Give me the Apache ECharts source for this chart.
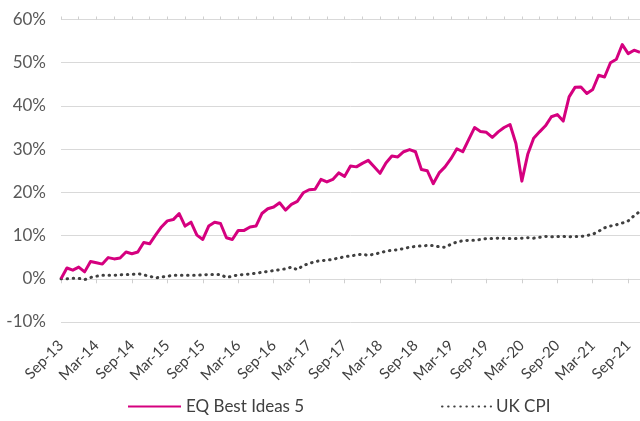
<!DOCTYPE html>
<html>
<head>
<meta charset="utf-8">
<script src="https://cdn.jsdelivr.net/npm/echarts@6/dist/echarts.min.js"></script>
<style>html,body{margin:0;padding:0;background:#fff}#c{width:640px;height:421px}</style>
</head>
<body>
<div id="c"></div>
<script>
// Monthly categories Sep-13 .. Nov-21
var monthNames = ['Jan','Feb','Mar','Apr','May','Jun','Jul','Aug','Sep','Oct','Nov','Dec'];
var startMonth = 8, startYear = 13, monthCount = 99;
var categories = [];
for (var k = 0; k < monthCount; k++) {
  var m = (startMonth + k) % 12, y = startYear + Math.floor((startMonth + k) / 12);
  categories.push(monthNames[m] + '-' + y);
}

var eqBestIdeas5 = [
  0.0, 2.5, 2.0, 2.7, 1.6, 4.0, 3.7, 3.4, 4.9, 4.6, 4.8, 6.2,
  5.8, 6.2, 8.4, 8.1, 10.1, 12.0, 13.4, 13.7, 15.1, 12.2, 13.1, 10.1,
  9.1, 12.2, 13.1, 12.8, 9.5, 9.1, 11.2, 11.2, 12.0, 12.2, 15.1, 16.2,
  16.6, 17.6, 15.9, 17.2, 17.9, 19.9, 20.6, 20.7, 23.0, 22.4, 23.0, 24.5,
  23.7, 26.1, 25.9, 26.7, 27.4, 25.9, 24.4, 26.8, 28.4, 28.2, 29.4, 29.9,
  29.4, 25.3, 25.0, 22.0, 24.5, 25.9, 27.8, 30.1, 29.4, 32.2, 35.0, 34.1,
  33.9, 32.7, 34.0, 35.0, 35.7, 31.3, 22.6, 28.8, 32.5, 34.0, 35.4, 37.5,
  38.0, 36.5, 42.1, 44.3, 44.4, 42.9, 43.8, 47.1, 46.7, 50.0, 50.8, 54.2,
  52.1, 52.9, 52.4
];

var ukCpi = [
  0.0, 0.0, 0.1, 0.1, -0.2, 0.3, 0.6, 0.8, 0.8, 0.8, 0.9, 1.0,
  1.0, 1.2, 0.9, 0.6, 0.2, 0.4, 0.6, 0.8, 0.8, 0.8, 0.8, 0.8,
  0.9, 1.0, 1.0, 1.0, 0.3, 0.6, 0.9, 1.0, 1.1, 1.3, 1.5, 1.7,
  1.9, 2.1, 2.3, 2.7, 2.1, 3.1, 3.5, 4.0, 4.2, 4.3, 4.5, 4.8,
  5.1, 5.3, 5.5, 5.7, 5.4, 5.7, 6.0, 6.4, 6.6, 6.7, 7.0, 7.3,
  7.5, 7.6, 7.7, 7.7, 7.4, 7.3, 8.0, 8.5, 8.8, 8.9, 8.9, 9.1,
  9.3, 9.3, 9.4, 9.4, 9.3, 9.3, 9.4, 9.5, 9.4, 9.6, 9.8, 9.7,
  9.8, 9.8, 9.7, 9.8, 9.8, 10.0, 10.3, 11.0, 11.8, 12.2, 12.5, 12.9,
  13.4, 14.6, 15.6
];

var seriesNames = ['EQ Best Ideas 5', 'UK CPI'];
var yMin = -10, yMax = 60, yStep = 10;

var FONT = 'Lato, "DejaVu Sans", sans-serif';
var chart = echarts.init(document.getElementById('c'), null, {renderer: 'canvas'});
chart.setOption({
  animation: false,
  backgroundColor: '#ffffff',
  grid: {left: 61, right: -2, top: 19.5, bottom: 99, containLabel: false},
  legend: [
    {left: 127, top: 398, padding: 0, data: [seriesNames[0]], itemWidth: 53, itemHeight: 14, itemGap: 5,
     itemStyle: {opacity: 0},
     textStyle: {fontFamily: FONT, fontSize: 17, color: '#404040'}},
    {left: 441, top: 398, padding: 0, data: [seriesNames[1]], itemWidth: 49, itemHeight: 14, itemGap: 5,
     itemStyle: {opacity: 0},
     textStyle: {fontFamily: FONT, fontSize: 17, color: '#404040'}}
  ],
  xAxis: [
    {
      type: 'category', data: categories, boundaryGap: false, position: 'bottom',
      axisLine: {show: true, onZero: true, lineStyle: {color: '#d9d9d9', width: 1}},
      axisTick: {show: true, length: 4.5, interval: function (i) { return i % 6 === 0; },
                 lineStyle: {color: '#cfcfcf', width: 1}},
      axisLabel: {show: true, interval: function (i) { return i % 6 === 0; }, rotate: 45, margin: 21,
                  fontFamily: FONT, fontSize: 15, color: '#404040'},
      splitLine: {show: false}
    },
    {
      type: 'category', data: categories, boundaryGap: false, position: 'top',
      axisLine: {show: false, onZero: true},
      axisTick: {show: true, length: 3, interval: function (i) { return i % 3 === 0; },
                 lineStyle: {color: '#cfcfcf', width: 1}},
      axisLabel: {show: false},
      splitLine: {show: false}
    }
  ],
  yAxis: {
    type: 'value', min: yMin, max: yMax, interval: yStep,
    axisLine: {show: false}, axisTick: {show: false},
    axisLabel: {formatter: '{value}%', margin: 15, fontFamily: FONT, fontSize: 17, color: '#595959'},
    splitLine: {show: true, lineStyle: {color: '#d9d9d9', width: 1}}
  },
  series: [
    {
      name: seriesNames[1], type: 'line', data: ukCpi, xAxisIndex: 0, showSymbol: false, symbol: 'none',
      color: '#404040',
      lineStyle: {color: '#404040', width: 3, type: [0.5, 5.6], cap: 'round'},
      z: 2
    },
    {
      name: seriesNames[0], type: 'line', data: eqBestIdeas5, xAxisIndex: 0, showSymbol: false, symbol: 'none',
      color: '#D5007F',
      lineStyle: {color: '#D5007F', width: 3, join: 'round'},
      z: 3
    }
  ]
});
</script>
</body>
</html>
